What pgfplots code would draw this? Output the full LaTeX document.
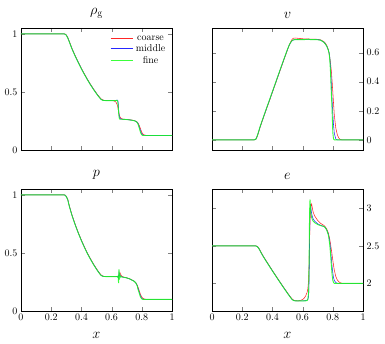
\documentclass[border=0pt]{standalone}
\usepackage{pgfplots}
\usepackage{pgfplotstable}
\pgfplotsset{compat=1.18}
\usepgfplotslibrary{groupplots}

\colorlet{ccoarse}{red!85!white}
\colorlet{cmiddle}{blue!85!white}
\colorlet{cfine}{green!90!white}

\pgfplotstableread{
x c m f
0 1 1 1
0.2 1 1 1
0.25 1 1 1
0.27 1 1 1
0.28 1 1 1
0.29 0.999 0.998 0.998
0.30 0.991 0.989 0.988
0.31 0.968 0.965 0.963
0.32 0.935 0.932 0.930
0.33 0.900 0.897 0.895
0.34 0.867 0.864 0.862
0.36 0.809 0.806 0.804
0.38 0.755 0.752 0.750
0.40 0.703 0.700 0.698
0.42 0.655 0.652 0.650
0.44 0.609 0.606 0.604
0.46 0.566 0.563 0.561
0.48 0.526 0.523 0.521
0.50 0.489 0.486 0.484
0.51 0.471 0.468 0.466
0.52 0.455 0.452 0.450
0.53 0.441 0.437 0.435
0.54 0.432 0.429 0.428
0.55 0.428 0.426 0.426
0.57 0.425 0.425 0.425
0.59 0.425 0.425 0.425
0.60 0.425 0.425 0.425
0.61 0.424 0.425 0.425
0.62 0.421 0.425 0.425
0.63 0.410 0.426 0.426
0.635 0.396 0.430 0.427
0.64 0.376 0.429 0.422
0.643 0.355 0.413 0.393
0.646 0.334 0.362 0.332
0.649 0.313 0.311 0.286
0.652 0.297 0.286 0.268
0.655 0.286 0.273 0.265
0.66 0.276 0.267 0.265
0.665 0.270 0.266 0.265
0.67 0.267 0.265 0.265
0.68 0.265 0.264 0.264
0.70 0.263 0.262 0.262
0.72 0.260 0.259 0.259
0.74 0.256 0.255 0.255
0.75 0.253 0.252 0.252
0.76 0.248 0.247 0.247
0.77 0.240 0.238 0.235
0.775 0.232 0.228 0.222
0.78 0.220 0.212 0.203
0.785 0.205 0.192 0.180
0.79 0.188 0.170 0.158
0.795 0.170 0.152 0.140
0.80 0.152 0.139 0.130
0.805 0.141 0.131 0.126
0.81 0.134 0.127 0.125
0.82 0.128 0.125 0.125
0.83 0.126 0.125 0.125
0.84 0.125 0.125 0.125
0.86 0.125 0.125 0.125
0.9 0.125 0.125 0.125
1.0 0.125 0.125 0.125
}\rhotab

\pgfplotstableread{
x c m f
0 0 0 0
0.2 0 0 0
0.25 0 0 0
0.27 0 0 0
0.28 0 0 0
0.29 0.003 0.004 0.004
0.30 0.024 0.027 0.028
0.31 0.057 0.060 0.062
0.32 0.091 0.094 0.096
0.33 0.121 0.124 0.126
0.34 0.151 0.154 0.156
0.36 0.210 0.213 0.215
0.38 0.268 0.271 0.273
0.40 0.327 0.330 0.332
0.42 0.386 0.389 0.391
0.44 0.445 0.448 0.450
0.46 0.504 0.507 0.509
0.48 0.562 0.565 0.567
0.50 0.620 0.622 0.624
0.51 0.648 0.648 0.650
0.52 0.672 0.668 0.670
0.53 0.692 0.682 0.683
0.54 0.700 0.688 0.689
0.55 0.701 0.690 0.690
0.57 0.699 0.691 0.690
0.59 0.697 0.691 0.690
0.60 0.696 0.691 0.690
0.61 0.695 0.691 0.690
0.62 0.695 0.691 0.691
0.63 0.695 0.691 0.692
0.64 0.695 0.692 0.693
0.646 0.694 0.692 0.691
0.655 0.694 0.692 0.690
0.67 0.694 0.692 0.690
0.68 0.693 0.691 0.690
0.70 0.692 0.690 0.689
0.72 0.688 0.686 0.686
0.74 0.677 0.673 0.672
0.75 0.666 0.662 0.660
0.76 0.650 0.645 0.645
0.77 0.622 0.620 0.618
0.775 0.598 0.602 0.598
0.78 0.565 0.570 0.555
0.785 0.525 0.500 0.460
0.79 0.480 0.390 0.330
0.795 0.410 0.280 0.210
0.80 0.330 0.180 0.050
0.805 0.250 0.100 0.005
0.81 0.170 0.045 0
0.82 0.080 0.005 0
0.83 0.035 0 0
0.84 0.012 0 0
0.85 0.002 0 0
0.86 0 0 0
0.9 0 0 0
1.0 0 0 0
}\veltab

\pgfplotstableread{
x c m f
0 1 1 1
0.2 1 1 1
0.25 1 1 1
0.27 1 1 1
0.28 1 1 1
0.29 0.999 0.998 0.998
0.30 0.987 0.985 0.984
0.31 0.960 0.957 0.955
0.32 0.905 0.902 0.900
0.33 0.861 0.858 0.856
0.34 0.817 0.814 0.812
0.36 0.742 0.739 0.737
0.38 0.673 0.670 0.668
0.40 0.610 0.607 0.605
0.42 0.552 0.549 0.547
0.44 0.498 0.495 0.493
0.46 0.450 0.447 0.445
0.48 0.405 0.402 0.400
0.50 0.364 0.361 0.359
0.51 0.345 0.342 0.340
0.52 0.327 0.324 0.322
0.53 0.311 0.308 0.306
0.54 0.302 0.300 0.299
0.55 0.298 0.297 0.297
0.57 0.296 0.296 0.296
0.60 0.296 0.296 0.296
0.63 0.296 0.296 0.296
0.635 0.297 0.297 0.296
0.64 0.298 0.294 0.292
0.643 0.299 0.300 0.300
0.646 0.302 0.280 0.240
0.649 0.310 0.330 0.360
0.652 0.322 0.300 0.270
0.655 0.330 0.312 0.310
0.66 0.316 0.298 0.292
0.665 0.303 0.295 0.295
0.67 0.297 0.293 0.293
0.68 0.292 0.290 0.290
0.70 0.286 0.285 0.285
0.72 0.277 0.276 0.276
0.74 0.264 0.263 0.262
0.75 0.256 0.256 0.255
0.76 0.244 0.243 0.242
0.77 0.222 0.218 0.215
0.775 0.205 0.196 0.185
0.78 0.186 0.175 0.168
0.785 0.166 0.153 0.145
0.79 0.148 0.134 0.125
0.795 0.133 0.119 0.111
0.80 0.121 0.109 0.104
0.805 0.112 0.104 0.101
0.81 0.107 0.101 0.100
0.82 0.102 0.100 0.100
0.83 0.100 0.100 0.100
0.9 0.100 0.100 0.100
1.0 0.100 0.100 0.100
}\prestab

\pgfplotstableread{
x c m f
0 2.5 2.5 2.5
0.2 2.5 2.5 2.5
0.25 2.5 2.5 2.5
0.27 2.5 2.5 2.5
0.28 2.5 2.5 2.5
0.29 2.5 2.499 2.499
0.30 2.494 2.491 2.490
0.31 2.471 2.467 2.465
0.32 2.434 2.430 2.428
0.33 2.396 2.392 2.390
0.34 2.361 2.357 2.355
0.36 2.297 2.293 2.291
0.38 2.234 2.230 2.228
0.40 2.171 2.167 2.165
0.42 2.110 2.106 2.104
0.44 2.049 2.045 2.043
0.46 1.989 1.985 1.983
0.48 1.930 1.926 1.924
0.50 1.872 1.868 1.866
0.51 1.844 1.840 1.838
0.52 1.817 1.812 1.810
0.53 1.792 1.786 1.784
0.54 1.776 1.771 1.770
0.55 1.769 1.766 1.766
0.57 1.765 1.765 1.765
0.59 1.774 1.765 1.765
0.60 1.784 1.766 1.765
0.61 1.800 1.767 1.765
0.62 1.830 1.770 1.766
0.63 1.880 1.776 1.770
0.635 1.930 1.785 1.790
0.64 2.050 1.830 1.880
0.643 2.250 2.050 2.300
0.646 2.550 2.550 2.950
0.649 2.800 2.950 3.120
0.652 2.950 3.060 3.020
0.655 3.030 3.000 2.930
0.66 3.060 2.930 2.880
0.665 3.000 2.890 2.850
0.67 2.950 2.860 2.830
0.68 2.900 2.830 2.810
0.70 2.840 2.795 2.785
0.72 2.800 2.775 2.770
0.74 2.775 2.760 2.760
0.75 2.755 2.745 2.745
0.76 2.725 2.712 2.710
0.77 2.675 2.660 2.650
0.775 2.635 2.615 2.590
0.78 2.585 2.555 2.510
0.785 2.525 2.460 2.390
0.79 2.455 2.340 2.250
0.795 2.385 2.230 2.120
0.80 2.310 2.140 2.040
0.805 2.240 2.075 2.010
0.81 2.175 2.038 2.000
0.82 2.090 2.010 2.000
0.83 2.045 2.000 2.000
0.84 2.020 2.000 2.000
0.85 2.007 2.000 2.000
0.86 2.000 2.000 2.000
0.9 2.000 2.000 2.000
1.0 2.000 2.000 2.000
}\enetab

\begin{document}
\begin{tikzpicture}
\begin{groupplot}[
  group style={group size=2 by 2, horizontal sep=40pt, vertical sep=39pt,
    x descriptions at=edge bottom},
  scale only axis, width=151pt, height=122pt,
  xmin=0, xmax=1, xtick={0,0.2,0.4,0.6,0.8,1},
  xlabel={$x$}, xlabel style={font=\Large, yshift=-4pt},
  title style={font=\Large, yshift=0pt},
]
\nextgroupplot[title={$\rho_{\mathrm{g}}$}, ymin=0, ymax=1.05, ytick={0,0.5,1},
  legend style={draw=none, fill=none, at={(0.99,0.97)}, anchor=north east,
    row sep=-1pt},
  legend cell align=center,
  legend image code/.code={\draw[#1, line width=0.8pt] (0cm,0.3pt) -- (0.8cm,0.3pt);}]
\addplot[color=ccoarse, line width=0.55pt] table[x=x, y=c] {\rhotab};
\addlegendentry{coarse}
\addplot[color=cmiddle, line width=0.55pt] table[x=x, y=m] {\rhotab};
\addlegendentry{middle}
\addplot[color=cfine, line width=0.9pt, opacity=0.85] table[x=x, y=f] {\rhotab};
\addlegendentry{fine}
\nextgroupplot[title={$v$}, ymin=-0.07, ymax=0.77, ytick={0,0.2,0.4,0.6},
  yticklabel pos=right]
\addplot[color=ccoarse, line width=0.55pt] table[x=x, y=c] {\veltab};
\addplot[color=cmiddle, line width=0.55pt] table[x=x, y=m] {\veltab};
\addplot[color=cfine, line width=0.9pt, opacity=0.85] table[x=x, y=f] {\veltab};
\nextgroupplot[title={$p$}, ymin=0, ymax=1.05, ytick={0,0.5,1}]
\addplot[color=ccoarse, line width=0.55pt] table[x=x, y=c] {\prestab};
\addplot[color=cmiddle, line width=0.55pt] table[x=x, y=m] {\prestab};
\addplot[color=cfine, line width=0.9pt, opacity=0.85] table[x=x, y=f] {\prestab};
\nextgroupplot[title={$e$}, ymin=1.63, ymax=3.26, ytick={2,2.5,3},
  yticklabel pos=right]
\addplot[color=ccoarse, line width=0.55pt] table[x=x, y=c] {\enetab};
\addplot[color=cmiddle, line width=0.55pt] table[x=x, y=m] {\enetab};
\addplot[color=cfine, line width=0.9pt, opacity=0.85] table[x=x, y=f] {\enetab};
\end{groupplot}
\pgfresetboundingbox
\path[use as bounding box] ([xshift=-21pt,yshift=28pt]group c1r1.north west) rectangle ([xshift=364pt,yshift=-315pt]group c1r1.north west);
\end{tikzpicture}
\end{document}
